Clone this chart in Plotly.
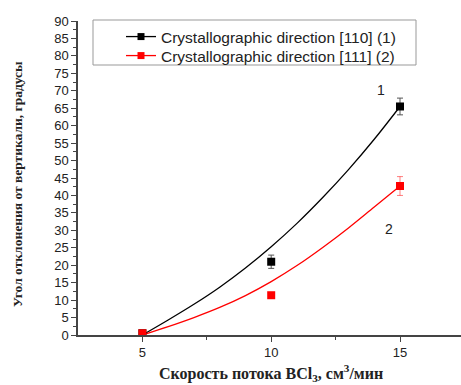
import plotly.graph_objects as go

# Measured points
flow = [5, 10, 15]
angle_110 = [0.5, 21.0, 65.5]
err_110 = [0, 1.9, 2.4]
angle_111 = [0.5, 11.4, 42.7]
err_111 = [0, 0, 2.7]

# Fitted curves
fit_x = [5, 6, 7, 8, 9, 10, 11, 12, 13, 14, 15]
fit_110 = [0.0, 4.3, 8.8, 13.7, 19.2, 25.3, 32.0, 39.4, 47.4, 56.1, 65.5]
fit_111 = [0.0, 2.4, 5.0, 7.9, 11.3, 15.3, 19.9, 25.1, 30.7, 36.7, 42.7]

names = ["Crystallographic direction [110] (1)", "Crystallographic direction [111] (2)"]
x_ticks = [5, 10, 15]

W, H = 461, 385
ML, MR, MT, MB = 78, 0, 21, 50
PW, PH = W - ML - MR, H - MT - MB

def px(xp):
    return (xp - ML) / PW

def py(yp):
    return 1 - (yp - MT) / PH

fig = go.Figure()

# fitted curves
fig.add_trace(go.Scatter(x=fit_x, y=fit_110, mode="lines", line=dict(color="black", width=1.3, shape="spline"),
                         showlegend=False, hoverinfo="skip"))
fig.add_trace(go.Scatter(x=fit_x, y=fit_111, mode="lines", line=dict(color="#ff0000", width=1.3, shape="spline"),
                         showlegend=False, hoverinfo="skip"))

# measured points
fig.add_trace(go.Scatter(x=flow, y=angle_110, mode="markers",
                         marker=dict(symbol="square", size=8, color="black"),
                         error_y=dict(type="data", array=err_110, color="#555555", thickness=1, width=3),
                         showlegend=False))
fig.add_trace(go.Scatter(x=flow, y=angle_111, mode="markers",
                         marker=dict(symbol="square", size=8, color="#ff0000"),
                         error_y=dict(type="data", array=err_111, color="rgba(255,0,0,0.5)", thickness=1, width=3),
                         showlegend=False))

# legend entries
fig.add_trace(go.Scatter(x=[None], y=[None], mode="lines+markers", name=names[0],
                         line=dict(color="black", width=1.3), legend="legend",
                         marker=dict(symbol="square", size=7, color="black")))
fig.add_trace(go.Scatter(x=[None], y=[None], mode="lines+markers", name=names[1],
                         line=dict(color="#ff0000", width=1.3), legend="legend2",
                         marker=dict(symbol="square", size=7, color="#ff0000")))

axis_font = dict(family="Liberation Sans, Arial", size=13, color="#222222")
leg_font = dict(family="Liberation Sans, Arial", size=15.5, color="#222222")

fig.update_layout(
    width=W, height=H,
    margin=dict(l=ML, r=MR, t=MT, b=MB),
    paper_bgcolor="white", plot_bgcolor="white",
    showlegend=True,
    legend=dict(x=px(121), y=py(37), xanchor="left", yanchor="middle",
                bgcolor="rgba(0,0,0,0)", borderwidth=0, font=leg_font),
    legend2=dict(x=px(121), y=py(56), xanchor="left", yanchor="middle",
                 bgcolor="rgba(0,0,0,0)", borderwidth=0, font=leg_font),
    xaxis=dict(range=[2.5, 2.5 + PW / 25.76], tickvals=x_ticks, ticks="outside", ticklen=5,
               tickwidth=1, tickcolor="#444444", showline=True, linecolor="#444444", linewidth=1.5,
               showgrid=False, zeroline=False, tickfont=axis_font,
               minor=dict(tickvals=[7.5, 12.5], ticks="outside", ticklen=3, tickcolor="#444444")),
    yaxis=dict(range=[0, 90], tickmode="linear", tick0=0, dtick=5, ticks="outside", ticklen=5,
               tickwidth=1, tickcolor="#444444", showline=True, linecolor="#444444", linewidth=1.5,
               showgrid=False, zeroline=False, tickfont=axis_font,
               minor=dict(dtick=2.5, ticks="outside", ticklen=3, tickcolor="#444444")),
)

# legend frame
fig.add_shape(type="rect", xref="paper", yref="paper", x0=px(93), x1=px(416), y0=py(65), y1=py(20),
              line=dict(color="#999999", width=1), fillcolor="rgba(0,0,0,0)")

# curve labels
lab_font = dict(family="Liberation Sans, Arial", size=14, color="#222222")
fig.add_annotation(x=14.25, y=70.1, text="1", showarrow=False, font=lab_font)
fig.add_annotation(x=14.59, y=30.3, text="2", showarrow=False, font=lab_font)

# axis titles
title_font = dict(family="Liberation Serif, Times New Roman", size=16, color="#222222")
fig.add_annotation(xref="paper", yref="paper", x=px(271), y=py(373), text="<b>Скорость потока BCl<sub>3</sub>, см<sup>3</sup>/мин</b>",
                   showarrow=False, font=title_font, xanchor="center", yanchor="middle")
fig.add_annotation(xref="paper", yref="paper", x=px(17), y=py(184), text="<b>Угол отклонения от вертикали, градусы</b>",
                   showarrow=False, textangle=-90, font=dict(family="Liberation Serif, Times New Roman", size=13.5, color="#222222"),
                   xanchor="center", yanchor="middle")

fig.write_html("out.html")
